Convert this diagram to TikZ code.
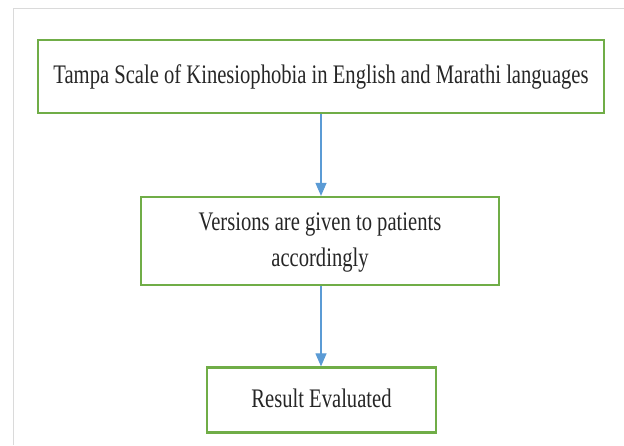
\documentclass[tikz,border=0pt]{standalone}
\usepackage{fontspec}
\setmainfont{Liberation Serif}
\usetikzlibrary{arrows.meta}
\definecolor{boxgreen}{HTML}{70AD47}
\definecolor{arrowblue}{HTML}{5B9BD5}
\definecolor{framegray}{HTML}{DADADA}
\definecolor{txtgray}{HTML}{262626}
\newcommand{\boxtext}[1]{\raisebox{-2.5pt}{\scalebox{1}[1.3]{\fontsize{20.6}{27.5}\selectfont\begin{tabular}{@{}c@{}}#1\end{tabular}}}}
\begin{document}
\begin{tikzpicture}[x=1pt,y=-1pt,
  flowbox/.style={draw=boxgreen,line width=2.2pt,fill=white,inner sep=0pt,text=txtgray},
  flowarrow/.style={draw=arrowblue,line width=1.1pt,-{Triangle[width=11pt,length=13pt]}}]
\useasboundingbox (0,0) rectangle (624,445);
\draw[framegray,line width=1pt] (13,445) coordinate (fbl) -- (13,8) coordinate (ftl) -- (624,8) coordinate (ftr);
\node[flowbox,minimum width=566pt,minimum height=73pt] (box1) at (321,76.5)
  {\boxtext{Tampa Scale of Kinesiophobia in English and Marathi languages}};
\node[flowbox,minimum width=358pt,minimum height=88pt] (box2) at (320,241)
  {\boxtext{Versions are given to patients\\accordingly}};
\node[flowbox,minimum width=229pt,minimum height=65pt] (box3) at (321.5,400)
  {\boxtext{Result Evaluated}};
\draw[flowarrow] (box1.south -| 321,0) -- (box2.north -| 321,0);
\draw[flowarrow] (box2.south -| 321,0) -- (box3.north -| 321,0);
\end{tikzpicture}
\end{document}
